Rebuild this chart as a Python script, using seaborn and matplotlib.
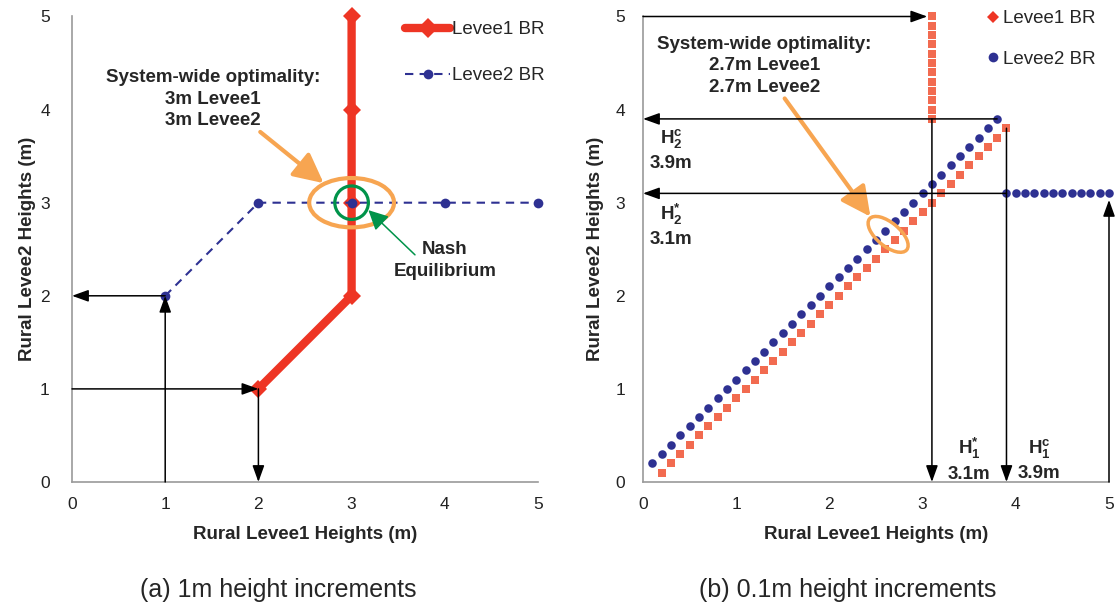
import matplotlib
matplotlib.use("Agg")
import matplotlib.pyplot as plt
import seaborn as sns
import pandas as pd
from matplotlib.lines import Line2D
from matplotlib.patches import Ellipse

# ---------------- data ----------------
# (a) 1m increments
a_levee1_x = [2, 3, 3, 3, 3]
a_levee1_y = [1, 2, 3, 4, 5]
a_levee2_x = [1, 2, 3, 4, 5]
a_levee2_y = [2, 3, 3, 3, 3]

# (b) 0.1m increments
b_levee1_x = [0.2, 0.3, 0.4, 0.5, 0.6, 0.7, 0.8, 0.9, 1.0, 1.1, 1.2, 1.3, 1.4,
              1.5, 1.6, 1.7, 1.8, 1.9, 2.0, 2.1, 2.2, 2.3, 2.4, 2.5, 2.6, 2.7,
              2.8, 2.9, 3.0, 3.1, 3.2, 3.3, 3.4, 3.5, 3.6, 3.7, 3.8, 3.9,
              3.1, 3.1, 3.1, 3.1, 3.1, 3.1, 3.1, 3.1, 3.1, 3.1, 3.1, 3.1]
b_levee1_y = [0.1, 0.2, 0.3, 0.4, 0.5, 0.6, 0.7, 0.8, 0.9, 1.0, 1.1, 1.2, 1.3,
              1.4, 1.5, 1.6, 1.7, 1.8, 1.9, 2.0, 2.1, 2.2, 2.3, 2.4, 2.5, 2.6,
              2.7, 2.8, 2.9, 3.0, 3.1, 3.2, 3.3, 3.4, 3.5, 3.6, 3.7, 3.8,
              3.9, 4.0, 4.1, 4.2, 4.3, 4.4, 4.5, 4.6, 4.7, 4.8, 4.9, 5.0]
b_levee2_x = [0.1, 0.2, 0.3, 0.4, 0.5, 0.6, 0.7, 0.8, 0.9, 1.0, 1.1, 1.2, 1.3,
              1.4, 1.5, 1.6, 1.7, 1.8, 1.9, 2.0, 2.1, 2.2, 2.3, 2.4, 2.5, 2.6,
              2.7, 2.8, 2.9, 3.0, 3.1, 3.2, 3.3, 3.4, 3.5, 3.6, 3.7, 3.8,
              3.9, 4.0, 4.1, 4.2, 4.3, 4.4, 4.5, 4.6, 4.7, 4.8, 4.9, 5.0]
b_levee2_y = [0.2, 0.3, 0.4, 0.5, 0.6, 0.7, 0.8, 0.9, 1.0, 1.1, 1.2, 1.3, 1.4,
              1.5, 1.6, 1.7, 1.8, 1.9, 2.0, 2.1, 2.2, 2.3, 2.4, 2.5, 2.6, 2.7,
              2.8, 2.9, 3.0, 3.1, 3.2, 3.3, 3.4, 3.5, 3.6, 3.7, 3.8, 3.9,
              3.1, 3.1, 3.1, 3.1, 3.1, 3.1, 3.1, 3.1, 3.1, 3.1, 3.1, 3.1]

tick_values = [0, 1, 2, 3, 4, 5]
series_labels = ["Levee1 BR", "Levee2 BR"]
x_label = "Rural Levee1 Heights (m)"
y_label = "Rural Levee2 Heights (m)"
captions = ["(a) 1m height increments", "(b) 0.1m height increments"]

# ---------------- style ----------------
sns.set_style("white")
plt.rcParams["font.family"] = ["Liberation Sans", "DejaVu Sans"]
plt.rcParams["mathtext.fontset"] = "custom"
plt.rcParams["mathtext.rm"] = "Liberation Sans"
plt.rcParams["mathtext.bf"] = "Liberation Sans:bold"
plt.rcParams["mathtext.it"] = "Liberation Sans:italic"

RED = "#EE3524"
RED2 = "#F26B50"
BLUE = "#2E3192"
ORANGE = "#F7A551"
GREEN = "#00934A"
SPINE = "#9A9A9A"
BOLD = 13.5
LS = 1.35

W, H = 1118, 604
fig = plt.figure(figsize=(W / 100, H / 100), dpi=100)
ax1 = fig.add_axes([72 / W, (H - 482) / H, 466 / W, 465.5 / H])
ax2 = fig.add_axes([643 / W, (H - 482) / H, 466 / W, 465.5 / H])


def style_axes(ax, ypad):
    ax.set_xlim(0, 5)
    ax.set_ylim(0, 5)
    ax.set_xticks(tick_values)
    ax.set_yticks(tick_values)
    ax.tick_params(axis="both", length=0, labelsize=12.5, labelcolor="#222222")
    ax.tick_params(axis="x", pad=11)
    ax.tick_params(axis="y", pad=ypad)
    for s in ["top", "right"]:
        ax.spines[s].set_visible(False)
    for s in ["left", "bottom"]:
        ax.spines[s].set_color(SPINE)
        ax.spines[s].set_linewidth(1.2)
    ax.set_xlabel(x_label, fontsize=BOLD, fontweight="bold")
    ax.set_ylabel(y_label, fontsize=BOLD, fontweight="bold")
    ax.xaxis.set_label_coords(0.5, -0.095)


def arrow(ax, start, end, color="black", lw=1.1, style="-|>,head_length=0.5,head_width=0.18", ms=20, z=8):
    ax.annotate("", xy=end, xytext=start,
                arrowprops=dict(arrowstyle=style, color=color, lw=lw,
                                shrinkA=0, shrinkB=0, mutation_scale=ms),
                annotation_clip=False, zorder=z)


def btext(ax, x, y, s):
    ax.text(x, y, s, ha="center", va="center", multialignment="center",
            fontsize=BOLD, fontweight="bold", linespacing=LS, zorder=9)


# ---------------- (a) ----------------
style_axes(ax1, 16)
sns.lineplot(x=a_levee1_x, y=a_levee1_y, ax=ax1, estimator=None, sort=False,
             color=RED, lw=6, marker="D", markersize=9, markeredgewidth=0,
             clip_on=False, zorder=3)
sns.lineplot(x=a_levee2_x, y=a_levee2_y, ax=ax1, estimator=None, sort=False,
             color=BLUE, lw=1.5, linestyle=(0, (4, 3)), marker="o", markersize=7,
             markeredgewidth=0, clip_on=False, zorder=4)

arrow(ax1, (0, 1), (2, 1))
arrow(ax1, (2, 1), (2, 0))
arrow(ax1, (1, 0), (1, 2))
arrow(ax1, (1, 2), (0, 2))

ax1.add_patch(Ellipse((3, 3), 0.91, 0.53, fill=False, ec=ORANGE, lw=3, zorder=6))
ax1.add_patch(Ellipse((3, 3), 0.36, 0.36, fill=False, ec=GREEN, lw=2.3, zorder=7))
btext(ax1, 1.51, 4.11, "System-wide optimality:\n3m Levee1\n3m Levee2")
arrow(ax1, (2.02, 3.76), (2.70, 3.21), color=ORANGE, lw=3,
      style="-|>,head_length=0.9,head_width=0.45", ms=20, z=7)
btext(ax1, 4.0, 2.38, "Nash\nEquilibrium")
arrow(ax1, (3.68, 2.44), (3.18, 2.92), color=GREEN, lw=1.1,
      style="-|>,head_length=0.6,head_width=0.3", ms=20, z=8)

leg1_handles = [
    Line2D([], [], color=RED, lw=6, marker="D", markersize=10, markeredgewidth=0),
    Line2D([], [], color=BLUE, lw=1.5, linestyle=(0, (4, 3)), marker="o",
           markersize=7, markeredgewidth=0),
]
ax1.legend(leg1_handles, series_labels, loc="upper left",
           bbox_to_anchor=(405 / W, 1 - 21 / H), bbox_transform=fig.transFigure,
           frameon=False, fontsize=BOLD, handlelength=2.4, handletextpad=0.1,
           labelspacing=1.55, borderpad=0, borderaxespad=0)
ax1.yaxis.set_label_coords(-0.077, 0.5)

# ---------------- (b) ----------------
style_axes(ax2, 13)
sns.scatterplot(x=b_levee1_x, y=b_levee1_y, ax=ax2, color=RED2, marker="s",
                s=30, linewidth=0, clip_on=False, zorder=3)
sns.scatterplot(x=b_levee2_x, y=b_levee2_y, ax=ax2, color=BLUE, marker="o",
                s=38, linewidth=0, clip_on=False, zorder=4)

arrow(ax2, (0, 5), (3.05, 5))
arrow(ax2, (3.8, 3.9), (0, 3.9))
arrow(ax2, (3.1, 3.9), (3.1, 0))
arrow(ax2, (3.9, 3.1), (0, 3.1))
arrow(ax2, (3.9, 3.8), (3.9, 0))
arrow(ax2, (5, 0), (5, 3.03))

btext(ax2, 1.30, 4.47, "System-wide optimality:\n2.7m Levee1\n2.7m Levee2")
arrow(ax2, (1.52, 4.12), (2.44, 2.85), color=ORANGE, lw=3,
      style="-|>,head_length=0.9,head_width=0.45", ms=20, z=7)
ax2.add_patch(Ellipse((2.63, 2.66), 0.52, 0.25, angle=-40, fill=False,
                      ec=ORANGE, lw=2.5, zorder=6))

btext(ax2, 0.30, 3.57, "$\\mathbf{H^{c}_{2}}$\n3.9m")
btext(ax2, 0.30, 2.76, "$\\mathbf{H^{*}_{2}}$\n3.1m")
btext(ax2, 3.50, 0.24, "$\\mathbf{H^{*}_{1}}$\n3.1m")
btext(ax2, 4.25, 0.24, "$\\mathbf{H^{c}_{1}}$\n3.9m")

leg2_handles = [
    Line2D([], [], ls="none", color=RED, marker="D", markersize=6, markeredgewidth=0),
    Line2D([], [], ls="none", color=BLUE, marker="o", markersize=7, markeredgewidth=0),
]
ax2.legend(leg2_handles, series_labels, loc="upper left",
           bbox_to_anchor=(985 / W, 1 - 10 / H), bbox_transform=fig.transFigure,
           frameon=False, fontsize=BOLD, handlelength=0.8, handletextpad=0.15,
           labelspacing=1.25, borderpad=0, borderaxespad=0)
ax2.yaxis.set_label_coords(-0.083, 0.5)

# ---------------- captions ----------------
fig.text(278 / W, (H - 597) / H, captions[0], ha="center", va="baseline", fontsize=18)
fig.text(848 / W, (H - 597) / H, captions[1], ha="center", va="baseline", fontsize=18)

fig.savefig("out.png", dpi=100)
